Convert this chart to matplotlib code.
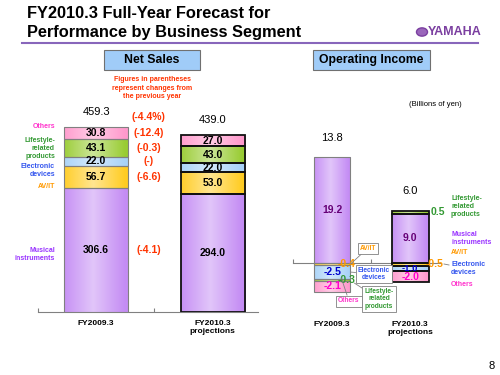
import matplotlib
matplotlib.use('Agg')
import matplotlib.pyplot as plt
import matplotlib.patches as patches
import numpy as np
from matplotlib.colors import to_rgb

plt.rcParams['font.family'] = ['Liberation Sans', 'DejaVu Sans']

# データ
segments = ['Musical\ninstruments', 'AV/IT', 'Electronic\ndevices',
            'Lifestyle-\nrelated\nproducts', 'Others']
years = ['FY2009.3', 'FY2010.3\nprojections']
sales_2009 = [306.6, 56.7, 22.0, 43.1, 30.8]
sales_2010 = [294.0, 53.0, 22.0, 43.0, 27.0]
sales_totals = [459.3, 439.0]
sales_changes = ['(-4.1)', '(-6.6)', '(-)', '(-0.3)', '(-12.4)']
total_change = '(-4.4%)'
income_2009 = [19.2, -0.4, -2.5, -0.3, -2.1]
income_2010 = [9.0, -0.5, -1.0, 0.5, -2.0]
income_totals = [13.8, 6.0]

fills = ['#c48cf4', '#ffcc22', '#a8d2f8', '#99cc33', '#ff99cc']
text_colors = ['#9933ff', '#ff9900', '#3355ee', '#339933', '#ff33cc']
value_colors = ['#660077', '#ff9900', '#0000cc', '#339933', '#ff00cc']
RED = '#ff3300'

W, H = 500, 375
fig = plt.figure(figsize=(W / 100, H / 100), dpi=100)


def fx(x):
    return x / W


def fy(y):
    return 1 - y / H


def shade(ax, bar, color):
    """棒の中央を明るくするグラデーション"""
    x0, y0 = bar.get_x(), bar.get_y()
    w, h = bar.get_width(), bar.get_height()
    t = np.linspace(0, 1, 64)
    glow = np.clip(1 - np.abs(2 * t - 0.9), 0, 1)
    base = np.array(to_rgb(color))
    rgb = base[None, :] + (1 - base[None, :]) * 0.5 * glow[:, None]
    img = ax.imshow(rgb[None, :, :], extent=(x0, x0 + w, y0, y0 + h),
                    aspect='auto', zorder=2, interpolation='bilinear')
    img.set_clip_path(bar)


def stacked(ax, xpos, values, width, edge, lw):
    pos, neg = 0.0, 0.0
    spans = []
    for v, c in zip(values, fills):
        if v >= 0:
            bottom, pos = pos, pos + v
        else:
            bottom, neg = neg, neg + v
        bar = ax.bar(xpos, v, width, bottom=bottom, facecolor='none',
                     edgecolor=edge, linewidth=lw, zorder=3)[0]
        shade(ax, bar, c)
        spans.append((bottom, bottom + v))
    return spans, pos


# タイトル
fig.text(fx(27), fy(13), 'FY2010.3 Full-Year Forecast for', fontsize=11.8,
         fontweight='bold', va='center', ha='left')
fig.text(fx(27), fy(32), 'Performance by Business Segment', fontsize=11.8,
         fontweight='bold', va='center', ha='left')
fig.add_artist(plt.Line2D([fx(22), fx(478)], [fy(43), fy(43)],
                          color='#8866bb', linewidth=1.5))
fig.text(fx(428), fy(32), 'YAMAHA', fontsize=9, fontweight='bold',
         color='#7b3fa0', va='center', ha='left')
fig.add_artist(patches.Circle((fx(422), fy(32)), 0.011, transform=fig.transFigure,
                              facecolor='#9a66bb', edgecolor='#7b3fa0'))

# 見出しボックス
for x0, x1, label in [(104, 200, 'Net Sales'), (313, 430, 'Operating Income')]:
    fig.add_artist(patches.Rectangle((fx(x0), fy(70)), fx(x1 - x0), (70 - 50) / H,
                                     transform=fig.transFigure, facecolor='#a0ccf8',
                                     edgecolor='#707070', linewidth=0.8))
    fig.text(fx((x0 + x1) / 2), fy(60), label, fontsize=8.8, fontweight='bold',
             ha='center', va='center')

fig.text(fx(152), fy(88), 'Figures in parentheses\nrepresent changes from\nthe previous year',
         fontsize=5, fontweight='bold', color=RED, ha='center', va='center',
         linespacing=1.25)
fig.text(fx(435), fy(104), '(Billions of yen)', fontsize=5.5, ha='center', va='center')
fig.text(fx(492), fy(366), '8', fontsize=8, ha='center', va='center')

# --- 売上高 ---
ax1 = fig.add_axes([fx(38), fy(312), fx(220), 212 / H])
ax1.set_xlim(-0.5, 1.39)
ax1.set_ylim(0, 212 / 0.403)
bw = 0.55
for i, (vals, edge, lw) in enumerate([(sales_2009, '#808080', 0.8),
                                      (sales_2010, '#111111', 1.3)]):
    spans, top = stacked(ax1, i, vals, bw, edge, lw)
    for (b, t), v in zip(spans, vals):
        ax1.text(i, (b + t) / 2, f'{v:.1f}', fontsize=7.5, fontweight='bold',
                 ha='center', va='center', zorder=4)
    ax1.annotate(f'{sales_totals[i]:.1f}', (i, top), xytext=(0, 11),
                 textcoords='offset points', ha='center', va='center', fontsize=8)
    ax1.annotate(years[i], (i, 0), xytext=(0, -6), textcoords='offset points',
                 fontsize=6, fontweight='bold', ha='center', va='top', linespacing=1.2)

bottom = 0
for v, ch in zip(sales_2009, sales_changes):
    ax1.text(0.45, bottom + v / 2, ch, fontsize=7.5, fontweight='bold', color=RED,
             ha='center', va='center')
    bottom += v
ax1.text(0.45, sales_totals[0] + 24, total_change, fontsize=7.5, fontweight='bold',
         color=RED, ha='center', va='center')

for label, c, y in zip(segments, text_colors, [254, 187, 171, 148, 127]):
    fig.text(fx(55), fy(y), label, fontsize=5, fontweight='bold', color=c,
             ha='right', va='center', linespacing=1.2)

# --- 営業利益 ---
ax2 = fig.add_axes([fx(293), fy(263 + 7 * 5.5), fx(147), 29 * 5.5 / H])
ax2.set_xlim(-0.49, 1.38)
ax2.set_ylim(-7, 22)
iw = 0.47
income_spans = []
for i, (vals, edge, lw) in enumerate([(income_2009, '#808080', 0.8),
                                      (income_2010, '#111111', 1.3)]):
    spans, top = stacked(ax2, i, vals, iw, edge, lw)
    income_spans.append(spans)
    ax2.annotate(f'{income_totals[i]:.1f}', (i, top), xytext=(0, 14),
                 textcoords='offset points', ha='center', va='center', fontsize=8)
    ax2.annotate(years[i], (i, 0), xytext=(0, -42), textcoords='offset points',
                 fontsize=6, fontweight='bold', ha='center', va='top', linespacing=1.2)

# 値ラベル
for i, vals in enumerate([income_2009, income_2010]):
    for k in [0, 2, 4]:
        b, t = income_spans[i][k]
        size = 6.8 if (i == 1 and k == 2) else 7.5
        ax2.text(i, (b + t) / 2, f'{vals[k]:.1f}', fontsize=size, fontweight='bold',
                 color=value_colors[k], ha='center', va='center', zorder=4)
for k in [1, 3]:
    b, t = income_spans[0][k]
    ax2.text(iw / 2 - 0.05, (b + t) / 2, f'{income_2009[k]:.1f}', fontsize=7.5,
             fontweight='bold', color=value_colors[k], ha='center', va='center', zorder=4)
b, t = income_spans[1][1]
ax2.text(1 + iw / 2 - 0.04, (b + t) / 2, f'{income_2010[1]:.1f}', fontsize=7.5,
         fontweight='bold', color=value_colors[1], ha='left', va='center', zorder=4)
b, t = income_spans[1][3]
ax2.text(1 + iw / 2 + 0.03, (b + t) / 2, f'{income_2010[3]:.1f}', fontsize=7.5,
         fontweight='bold', color=value_colors[3], ha='left', va='center', zorder=4)

# 吹き出し (FY2009.3)
callouts = [(1, 368, 248), (2, 374, 274), (3, 379, 299), (4, 349, 301)]
for k, cx, cy in callouts:
    b, t = income_spans[0][k]
    if k == 4:
        target = (iw / 4, b + 0.5)
    elif k == 3:
        target = (iw / 2 + 0.05, (b + t) / 2 - 0.6)
    else:
        target = (iw / 2, (b + t) / 2)
    ax2.annotate(segments[k], target, xytext=(fx(cx), fy(cy)),
                 textcoords='figure fraction', fontsize=4.8, fontweight='bold',
                 color=text_colors[k], ha='center', va='center', linespacing=1.15,
                 bbox=dict(boxstyle='square,pad=0.3', facecolor='white',
                           edgecolor='#808080', linewidth=0.6),
                 arrowprops=dict(arrowstyle='-', color='#808080', linewidth=0.6,
                                 shrinkA=0, shrinkB=0), zorder=5)

# 右側ラベル (FY2010.3)
for k, y in zip([3, 0, 1, 2, 4], [206, 238, 253, 269, 285]):
    fig.text(fx(451), fy(y), segments[k], fontsize=5, fontweight='bold',
             color=text_colors[k], ha='left', va='center', linespacing=1.2)
fig.add_artist(plt.Line2D([fx(444), fx(449)], [fy(264), fy(265)],
                          color='#808080', linewidth=0.6))

for ax in (ax1, ax2):
    for s in ['top', 'right', 'left']:
        ax.spines[s].set_visible(False)
    ax.spines['bottom'].set_color('#808080')
    ax.spines['bottom'].set_zorder(1)
    ax.set_yticks([])
    ax.set_xticks([-0.5, 0.5])
    ax.tick_params(axis='x', direction='in', length=3, color='#808080',
                   labelbottom=False)
    ax.patch.set_visible(False)
ax2.spines['bottom'].set_position(('data', 0))

fig.savefig('out.png', dpi=100)
